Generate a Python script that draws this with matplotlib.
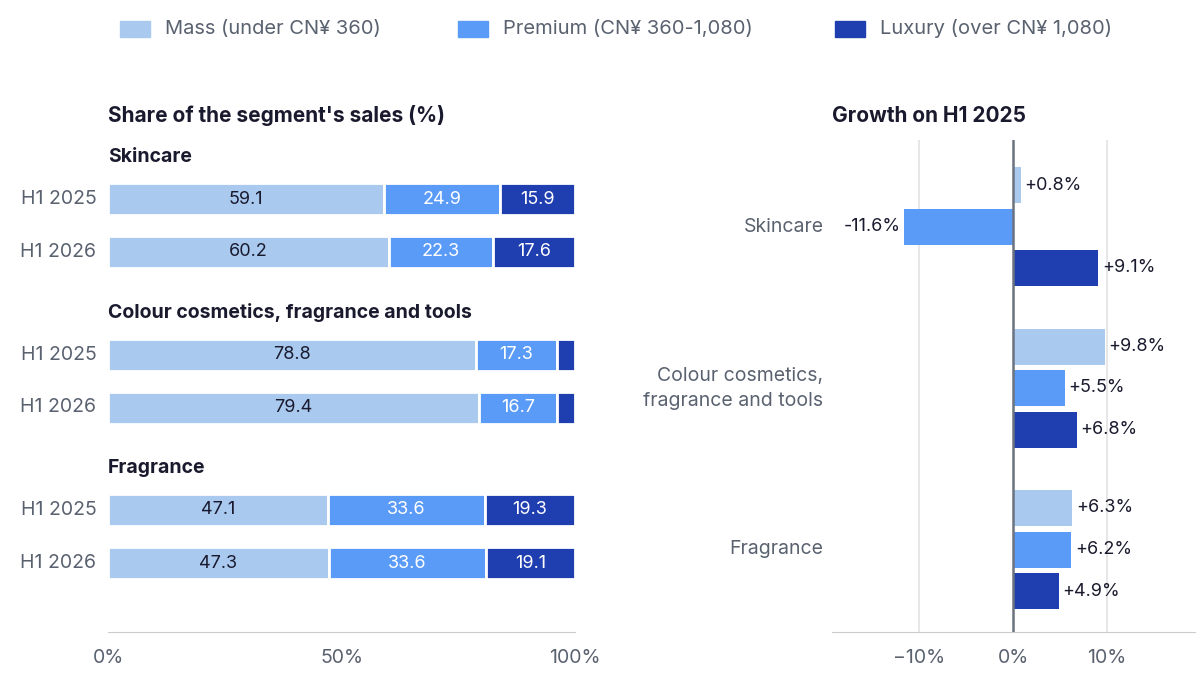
import matplotlib
matplotlib.use("Agg")
import matplotlib.pyplot as plt

plt.rcParams['font.family'] = ['Inter', 'DejaVu Sans']

segments = ["Skincare", "Colour cosmetics, fragrance and tools", "Fragrance"]
right_labels = ["Skincare", "Colour cosmetics,\nfragrance and tools", "Fragrance"]
periods = ["H1 2025", "H1 2026"]
tiers = ["Mass (under CN¥ 360)", "Premium (CN¥ 360-1,080)", "Luxury (over CN¥ 1,080)"]
colors = ["#a9c9ef", "#5b9bf8", "#1f3eb0"]
share = [  # [segment][period][tier]
    [[59.1, 24.9, 15.9], [60.2, 22.3, 17.6]],
    [[78.8, 17.3, 3.9], [79.4, 16.7, 3.9]],
    [[47.1, 33.6, 19.3], [47.3, 33.6, 19.1]],
]
growth = [[0.8, -11.6, 9.1], [9.8, 5.5, 6.8], [6.3, 6.2, 4.9]]

W, H = 1200, 678
fig = plt.figure(figsize=(W/100, H/100), dpi=100)
txt = "#1a1a2e"
grey = "#5a6270"

def ax_at(x0, x1, y0, y1):
    return fig.add_axes([x0/W, 1-y1/H, (x1-x0)/W, (y1-y0)/H])

# Left panel
axl = ax_at(108, 575, 140, 632)
axl.set_xlim(0, 100)
axl.set_ylim(632, 140)
for g in range(3):
    gy = 199 + g*155.5
    axl.text(0, gy - 42, segments[g], fontsize=14, fontweight='bold', color=txt, va='center')
    for r in range(2):
        y = gy + r*53
        left = 0
        for t in range(3):
            v = share[g][r][t]
            axl.barh(y, v, left=left, height=32, color=colors[t], edgecolor='white', linewidth=2)
            if v > 5:
                axl.text(left + v/2, y, f"{v:.1f}", ha='center', va='center', fontsize=13,
                         color='white' if t > 0 else txt)
            left += v
        axl.text(-2.5, y, periods[r], ha='right', va='center', fontsize=14, color=grey)
axl.set_yticks([])
axl.set_xticks([0, 50, 100])
axl.set_xticklabels(["0%", "50%", "100%"], fontsize=14, color=grey)
axl.tick_params(axis='x', length=0, pad=12)
for s in ['top', 'right', 'left']:
    axl.spines[s].set_visible(False)
axl.spines['bottom'].set_color('#cccccc')
axl.text(0, 116, "Share of the segment's sales (%)", fontsize=15, fontweight='bold', color=txt, va='center')

# Right panel
axr = ax_at(832, 1195, 140, 632)
axr.set_xlim(-19.3, 19.4)
axr.set_ylim(632, 140)
for xv in [-10, 10]:
    axr.axvline(xv, color='#e3e3e3', lw=1.2, zorder=0)
for g in range(3):
    gy = 185 + g*161.5
    for t in range(3):
        y = gy + t*41.5
        v = growth[g][t]
        axr.barh(y, v, height=36, color=colors[t], zorder=2)
        lab = f"{v:+.1f}%"
        if v >= 0:
            axr.text(v + 0.4, y, lab, ha='left', va='center', fontsize=13, color=txt)
        else:
            axr.text(v - 0.4, y, lab, ha='right', va='center', fontsize=13, color=txt)
    axr.text(-20.2, gy + 41.5, right_labels[g], ha='right', va='center', fontsize=14,
             color=grey, linespacing=1.5)
axr.axvline(0, color='#6b7380', lw=1.8, zorder=3)
axr.set_yticks([])
axr.set_xticks([-10, 0, 10])
axr.set_xticklabels(["\u221210%", "0%", "10%"], fontsize=14, color=grey)
axr.tick_params(axis='x', length=0, pad=12)
for s in ['top', 'right', 'left']:
    axr.spines[s].set_visible(False)
axr.spines['bottom'].set_color('#cccccc')
axr.text(-19.3, 116, "Growth on H1 2025", fontsize=15, fontweight='bold', color=txt, va='center')

# Legend
lx = [120, 458, 835]
for i in range(3):
    fig.patches.append(plt.Rectangle((lx[i]/W, 1-37/H), 30/W, 16/H, transform=fig.transFigure,
                                     color=colors[i]))
    fig.text((lx[i]+45)/W, 1-29/H, tiers[i], fontsize=14.5, color=grey, va='center')

fig.savefig("out.png", dpi=100)
